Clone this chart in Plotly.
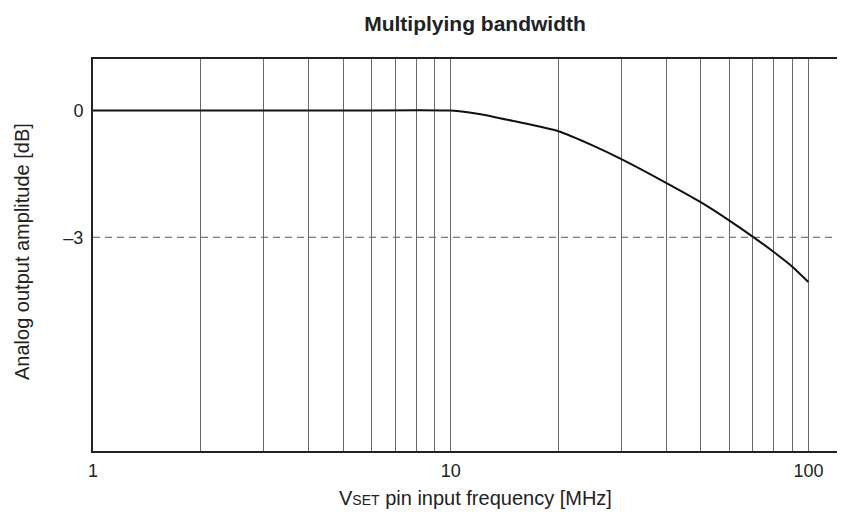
import plotly.graph_objects as go

# Data
freq_mhz = [1, 2, 5, 10, 12, 15, 20, 25, 30, 40, 50, 60, 70, 80, 90, 100]
amplitude_db = [0, 0, 0, 0, -0.08, -0.25, -0.49, -0.83, -1.15, -1.71, -2.17, -2.60, -2.99, -3.35, -3.69, -4.06]

x_tickvals = [1, 2, 3, 4, 5, 6, 7, 8, 9, 10, 20, 30, 40, 50, 60, 70, 80, 90, 100]
x_ticktext = ["1", "", "", "", "", "", "", "", "", "10", "", "", "", "", "", "", "", "", "100"]
y_tickvals = [0, -3]
y_ticktext = ["0", "\u20133"]
ref_level_db = -3

FONT = "Liberation Sans, Arial, sans-serif"
TXT = "#222222"

# page has an 8px body margin, so the figure is sized/placed to compensate
W, H = 837, 507
L, T, B = 85, 51, 64
PW, PH = W - L, H - T - B
DECADE_PX = 357.7

fig = go.Figure()
fig.add_trace(go.Scatter(
    x=freq_mhz, y=amplitude_db, mode="lines",
    line=dict(color="#111111", width=2, shape="spline", smoothing=0.6),
    showlegend=False, hoverinfo="skip",
))

fig.add_shape(type="line", xref="paper", yref="y", x0=0, x1=1,
              y0=ref_level_db, y1=ref_level_db,
              line=dict(color="#555555", width=1, dash="7px,5px"), layer="below")

fig.update_layout(
    width=W, height=H,
    margin=dict(l=L, r=0, t=T, b=B, pad=0),
    paper_bgcolor="white", plot_bgcolor="white",
    font=dict(family=FONT, size=18, color=TXT),
    title=dict(text="<b>Multiplying bandwidth</b>", x=467 / W, xanchor="center",
               y=1 - 16 / H, yanchor="middle", font=dict(size=21, color=TXT)),
)

fig.update_xaxes(
    type="log", range=[0, PW / DECADE_PX], automargin=False,
    tickvals=x_tickvals, ticktext=x_ticktext,
    showgrid=True, gridcolor="#6a6a6a", gridwidth=1,
    showline=True, linecolor="#222222", linewidth=2, mirror=True,
    ticks="", zeroline=False,
    tickfont=dict(size=18), ticklabelstandoff=2,
)
fig.update_yaxes(
    range=[-8.06, 1.22], automargin=False,
    tickvals=y_tickvals, ticktext=y_ticktext,
    showgrid=False,
    showline=True, linecolor="#222222", linewidth=2, mirror=False,
    ticks="", zeroline=False,
    tickfont=dict(size=18), ticklabelstandoff=4,
)

fig.add_annotation(
    text="V<span style='font-size:14px'>SET</span> pin input frequency [MHz]",
    xref="paper", yref="paper", x=(467 - L) / PW, y=-(490 - (T + PH)) / PH,
    xanchor="center", yanchor="middle", showarrow=False,
    font=dict(size=20, color=TXT),
)
fig.add_annotation(
    text="Analog output amplitude [dB]", textangle=-90,
    xref="paper", yref="paper", x=-(L - 14) / PW, y=(T + PH - 244) / PH,
    xanchor="center", yanchor="middle", showarrow=False,
    font=dict(size=20, color=TXT),
)

fig.write_html("out.html")
